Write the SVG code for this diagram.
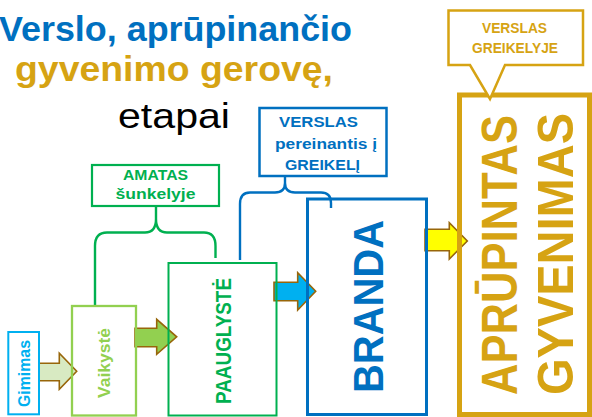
<svg xmlns="http://www.w3.org/2000/svg" width="592" height="417" viewBox="0 0 592 417">
<defs>
<style>
text{font-family:"Liberation Sans",Arial,sans-serif;font-weight:bold}
.title{font-size:35px}
.blue{fill:#0070C0}
.gold{fill:#D6A313}
.green{fill:#00B050}
.lgreen{fill:#92D050}
.cyan{fill:#00B0F0}
.box{fill:#ffffff}
.arrow{stroke:#98660A;stroke-width:1.6;stroke-linejoin:miter}
.brace{fill:none;stroke-width:2.4}
.cl{font-size:14px;text-anchor:middle}
.vt{text-anchor:middle}
</style>
</defs>
<rect width="592" height="417" fill="#ffffff"/>
<g id="title">
<text class="title blue" x="-1" y="41" textLength="353" lengthAdjust="spacingAndGlyphs">Verslo, aprūpinančio</text>
<text class="title gold" x="15" y="81" textLength="318" lengthAdjust="spacingAndGlyphs">gyvenimo gerovę,</text>
<text x="118" y="128" style="font-weight:normal;font-size:35px" fill="#000000" textLength="112" lengthAdjust="spacingAndGlyphs">etapai</text>
</g>
<g id="connectors">
<path class="brace" stroke="#00B050" d="M156,206 V219 Q156,232.5 145,232.5 H107 Q95,232.5 95,246 V306 M156,219 Q156,232.5 167,232.5 H204 Q215.5,232.5 215.5,246 V258"/>
<path class="brace" stroke="#0070C0" d="M285,176 V183 Q285,192.5 275,192.5 H250 Q240,192.5 240,204 V260 M285,183 Q285,192.5 295,192.5 H321 Q331,192.5 331,203 V208"/>
<polygon class="arrow" fill="#D8EAC2" points="35,363.3 59.3,363.3 59.3,353.3 76.7,371.3 59.3,389.3 59.3,380.7 35,380.7"/>
<polygon class="arrow" fill="#92D050" points="135,328.3 156.7,328.3 156.7,319.3 176.7,336.8 156.7,354.3 156.7,346.7 135,346.7"/>
<polygon class="arrow" fill="#00B0F0" points="274,282.3 297.7,282.3 297.7,272.7 315.7,291.3 297.7,310 297.7,300.7 274,300.7"/>
<polygon class="arrow" fill="#FFFF00" points="425,229.3 449.3,229.3 449.3,222.7 467.3,241 449.3,259 449.3,250.7 425,250.7"/>
</g>
<g id="gimimas">
<rect class="box" x="8.3" y="332" width="30.7" height="82.3" stroke="#00B0F0" stroke-width="2"/>
<text class="vt cyan" font-size="16.5" textLength="67" lengthAdjust="spacingAndGlyphs" transform="translate(30,373.5) rotate(-90)">Gimimas</text>
</g>
<g id="vaikyste">
<rect class="box" x="72" y="306" width="64" height="109.5" stroke="#92D050" stroke-width="2.3" fill-opacity="0"/>
<text class="vt lgreen" font-size="16.5" textLength="70" lengthAdjust="spacingAndGlyphs" transform="translate(110,363) rotate(-90)">Vaikystė</text>
</g>
<g id="paauglyste">
<rect class="box" x="168.5" y="263" width="108" height="152.5" stroke="#00B050" stroke-width="2" fill-opacity="0"/>
<text class="vt green" font-size="22" textLength="126" lengthAdjust="spacingAndGlyphs" transform="translate(231,341) rotate(-90)">PAAUGLYSTĖ</text>
</g>
<g id="branda">
<rect class="box" x="307.5" y="199" width="119" height="215.5" stroke="#0070C0" stroke-width="3" fill-opacity="0"/>
<text class="vt blue" font-size="43" textLength="173" lengthAdjust="spacingAndGlyphs" transform="translate(383,306.5) rotate(-90)">BRANDA</text>
</g>
<g id="aprupintas">
<rect class="box" x="459.5" y="95" width="130" height="319.5" stroke="#D6A313" stroke-width="5" fill-opacity="0"/>
<text class="vt gold" font-size="50" textLength="280" lengthAdjust="spacingAndGlyphs" transform="translate(517,255) rotate(-90)">APRŪPINTAS</text>
<text class="vt gold" font-size="50" textLength="282" lengthAdjust="spacingAndGlyphs" transform="translate(573,254) rotate(-90)">GYVENIMAS</text>
</g>
<g id="amatas">
<rect class="box" x="92" y="165" width="127" height="41" stroke="#00B050" stroke-width="2.2"/>
<text class="cl green" x="155.5" y="179.5" textLength="65" lengthAdjust="spacingAndGlyphs">AMATAS</text>
<text class="cl green" x="155.5" y="199" textLength="80" lengthAdjust="spacingAndGlyphs">šunkelyje</text>
</g>
<g id="pereinantis">
<rect class="box" x="259.5" y="108" width="127" height="68" stroke="#0070C0" stroke-width="2.5"/>
<text class="cl blue" x="318.5" y="127" textLength="79" lengthAdjust="spacingAndGlyphs">VERSLAS</text>
<text class="cl blue" x="326" y="149" textLength="102" lengthAdjust="spacingAndGlyphs">pereinantis į</text>
<text class="cl blue" x="322.5" y="170" textLength="75" lengthAdjust="spacingAndGlyphs">GREIKELĮ</text>
</g>
<g id="greikelyje">
<polygon points="448.5,10.5 583,10.5 583,65 505,65 490,99 470,65 448.5,65" fill="#ffffff" stroke="#D6A313" stroke-width="2.5"/>
<text class="cl gold" x="514.5" y="33" font-size="13.5" textLength="65" lengthAdjust="spacingAndGlyphs">VERSLAS</text>
<text class="cl gold" x="515" y="53" font-size="13.5" textLength="86" lengthAdjust="spacingAndGlyphs">GREIKELYJE</text>
</g>
</svg>
